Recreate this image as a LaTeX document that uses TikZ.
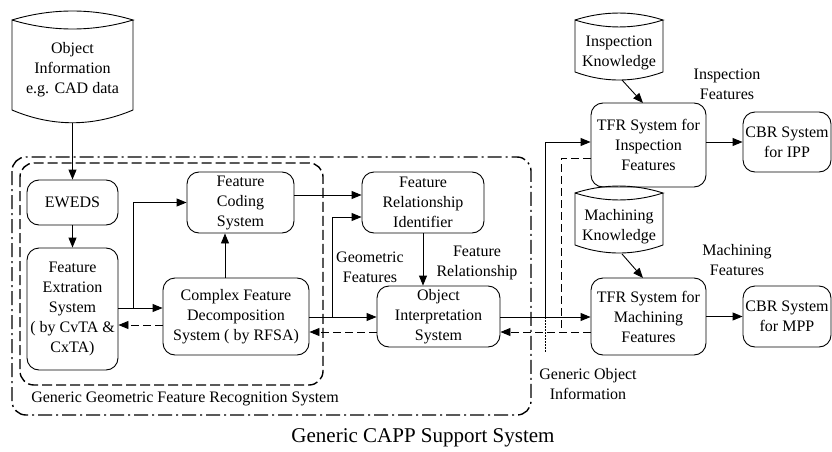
\documentclass[tikz,border=0pt]{standalone}
\usepackage{fontspec}
\setmainfont{Liberation Serif}
\usetikzlibrary{arrows.meta,calc}
\begin{document}
\begin{tikzpicture}[x=1pt,y=-1pt,
  box/.style={draw, line width=0.9pt, rounded corners=12pt, align=center, inner sep=0pt, font=\fontsize{16}{20}\selectfont},
  lbl/.style={align=center, inner sep=0pt, font=\fontsize{16}{20}\selectfont},
  ln/.style={line width=0.9pt},
  arr/.style={line width=0.9pt, -{Triangle[length=10pt,width=8pt]}},
  dsh/.style={line width=0.9pt, dash pattern=on 8pt off 4pt},
  darr/.style={dsh, -{Triangle[length=10pt,width=8pt]}},
  encl/.style={line width=1.4pt, rounded corners=14pt},
]
\useasboundingbox (0,0) rectangle (832,452);

% enclosures
\draw[encl, dash pattern=on 14pt off 4pt on 2pt off 4pt] (12,157) rectangle (531,415);
\draw[encl, dash pattern=on 10pt off 4pt] (20,163) rectangle (323,385);

% data stores
\draw[ln] (12,20) .. controls (52,8) and (93,8) .. (133,20) .. controls (93,32) and (52,32) .. (12,20) -- (12,110) .. controls (52,127) and (93,127) .. (133,110) -- (133,20);
\node[lbl] (OBJ) at (72.5,70) {Object\\Information\\e.g. CAD data};
\coordinate (objb) at (72.5,123);

\draw[ln] (575,20) .. controls (604,10.7) and (634,10.7) .. (663,20) .. controls (634,29.3) and (604,29.3) .. (575,20) -- (575,72) .. controls (604,82.7) and (634,82.7) .. (663,72) -- (663,20);
\node[lbl] (IK) at (619,53) {Inspection\\Knowledge};
\coordinate (ikb) at (622,80);
\coordinate (ikt) at (643,103);

\draw[ln] (575,193) .. controls (604,183.7) and (634,183.7) .. (663,193) .. controls (634,202.3) and (604,202.3) .. (575,193) -- (575,245) .. controls (604,255.7) and (634,255.7) .. (663,245) -- (663,193);
\node[lbl] (MK) at (619,227) {Machining\\Knowledge};
\coordinate (mkb) at (622,254);
\coordinate (mkt) at (643,278);

% boxes
\node[box, minimum width=91pt, minimum height=45pt] (EW) at (72.5,202.5) {EWEDS};
\node[box, minimum width=91pt, minimum height=122pt] (FE) at (72.5,309) {Feature\\Extration\\System\\( by CvTA \&\\CxTA)};
\node[box, minimum width=107pt, minimum height=61pt] (FC) at (240.5,202.5) {Feature\\Coding\\System};
\node[box, minimum width=146pt, minimum height=77pt] (CF) at (236,316.5) {Complex Feature\\Decomposition\\System ( by RFSA)};
\node[box, minimum width=122pt, minimum height=61pt] (FR) at (423,202.5) {Feature\\Relationship\\Identifier};
\node[box, minimum width=123pt, minimum height=61pt] (OI) at (438.5,316.5) {Object\\Interpretation\\System};
\node[box, minimum width=115pt, minimum height=84pt] (TI) at (648.5,145) {TFR System for\\Inspection\\Features};
\node[box, minimum width=115pt, minimum height=77pt] (TM) at (648.5,316.5) {TFR System for\\Machining\\Features};
\node[box, minimum width=88pt, minimum height=60pt] (CI) at (787,142) {CBR System\\for IPP};
\node[box, minimum width=88pt, minimum height=61pt] (CM) at (787,316.5) {CBR System\\for MPP};

% labels
\node[lbl] (GF) at (370,267) {Geometric\\Features};
\node[lbl] (FRL) at (477,263) {Feature\\Relationship};
\node[lbl] (IF) at (727,84.5) {Inspection\\Features};
\node[lbl] (MF) at (737,260) {Machining\\Features};
\node[lbl] (GO) at (588,384.5) {Generic Object\\Information};
\node[lbl] (GG) at (185,399) {Generic Geometric Feature Recognition System};
\node[lbl, font=\fontsize{21}{25}\selectfont] (GC) at (423,438) {Generic CAPP Support System};

% helper levels
\coordinate (j1) at (133,308);
\coordinate (r325) at (0,325);
\coordinate (r195) at (0,195);
\coordinate (r217) at (0,217);
\coordinate (j2) at (332,317);
\coordinate (r332) at (0,332);
\coordinate (j3) at (545,317);
\coordinate (r142) at (0,142);
\coordinate (r158) at (0,158);
\coordinate (j4) at (561,332);
\coordinate (dotend) at (545,353);
\coordinate (cfu) at ($(CF.north)+(-11,0)$);

% connectors
\draw[arr] (objb) -- (EW.north);
\draw[arr] (EW.south) -- (FE.north);
\draw[arr] (FE.east |- j1) -- (CF.west |- j1);
\draw[arr] (j1) |- (FC.west);
\draw[darr] (CF.west |- r325) -- (FE.east |- r325);
\draw[arr] (cfu) -- (cfu |- FC.south);
\draw[arr] (FC.east |- r195) -- (FR.west |- r195);
\draw[arr] (CF.east |- j2) -- (OI.west |- j2);
\draw[arr] (j2) |- (FR.west |- r217);
\draw[darr] (OI.west |- r332) -- (CF.east |- r332);
\draw[arr] (FR.south) -- (FR.south |- OI.north);
\draw[arr] (OI.east |- j3) -- (TM.west |- j3);
\draw[arr] (j3) |- (TI.west |- r142);
\draw[dsh] (TI.west |- r158) -| (j4);
\draw[darr] (TM.west |- r332) -- (OI.east |- r332);
\draw[line width=0.6pt, dash pattern=on 1.5pt off 1.5pt] (j3) -- (dotend);
\draw[arr] (TI.east |- r142) -- (CI.west |- r142);
\draw[arr] (TM.east) -- (CM.west);
\draw[arr] (ikb) -- (ikt);
\draw[arr] (mkb) -- (mkt);
\end{tikzpicture}
\end{document}
